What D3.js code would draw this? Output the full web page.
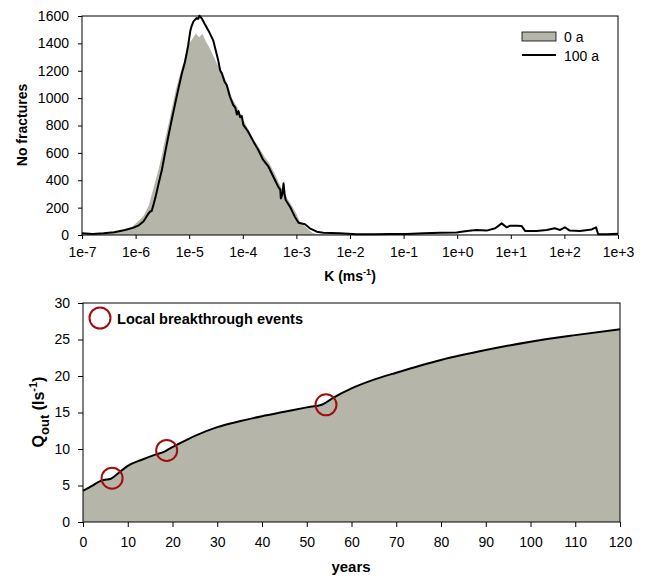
<!DOCTYPE html>
<html>
<head>
<meta charset="utf-8">
<script src="https://cdn.jsdelivr.net/npm/d3@7"></script>
<style>
body { margin: 0; background: #fff; }
svg { font-family: "Liberation Sans", Arial, sans-serif; }
</style>
</head>
<body>
<svg width="650" height="577"></svg>
<script>
// top panel: fracture count per log10 K bin
const seriesNames = ["0 a", "100 a"];

const grayExp = [-7.00, -6.60, -6.40, -6.20, -6.05, -5.95, -5.85, -5.75, -5.66, -5.57, -5.51, -5.45, -5.38, -5.33, -5.25, -5.16, -5.10, -5.05, -5.02, -4.98, -4.92, -4.88, -4.86, -4.83, -4.81, -4.78, -4.75, -4.71, -4.67, -4.64, -4.55, -4.48, -4.40, -4.30, -4.20, -4.10, -4.00, -3.90, -3.80, -3.70, -3.60, -3.50, -3.40, -3.30, -3.20, -3.10, -3.00, -2.95, -2.90, -2.80, -2.70, -2.60, -2.00, 3.00];
const grayCount = [5, 8, 18, 40, 66, 100, 140, 219, 353, 480, 584, 700, 820, 913, 1060, 1189, 1266, 1347, 1395, 1410, 1444, 1470, 1464, 1450, 1444, 1460, 1468, 1432, 1400, 1383, 1310, 1249, 1200, 1115, 1000, 930, 850, 775, 700, 640, 575, 520, 445, 360, 285, 225, 155, 110, 80, 50, 15, 5, 3, 2];

const lineExp = [-7.00, -6.80, -6.60, -6.40, -6.20, -6.05, -5.95, -5.85, -5.78, -5.73, -5.70, -5.66, -5.62, -5.57, -5.51, -5.45, -5.40, -5.33, -5.23, -5.14, -5.08, -5.02, -4.98, -4.96, -4.92, -4.86, -4.83, -4.81, -4.77, -4.71, -4.64, -4.55, -4.50, -4.46, -4.42, -4.39, -4.34, -4.30, -4.24, -4.18, -4.14, -4.11, -4.08, -4.05, -4.02, -3.99, -3.90, -3.80, -3.71, -3.62, -3.52, -3.43, -3.34, -3.30, -3.29, -3.26, -3.24, -3.22, -3.20, -3.12, -3.03, -2.96, -2.84, -2.75, -2.62, -2.50, -2.19, -1.88, -1.55, -1.25, -0.94, -0.63, -0.32, -0.01, 0.18, 0.36, 0.55, 0.71, 0.83, 0.92, 0.99, 1.11, 1.20, 1.27, 1.48, 1.67, 1.82, 1.92, 2.01, 2.10, 2.29, 2.51, 2.59, 2.63, 2.79, 3.00];
const lineCount = [12, 8, 12, 20, 36, 52, 68, 100, 145, 172, 175, 230, 290, 377, 475, 600, 700, 835, 1018, 1176, 1262, 1383, 1490, 1520, 1561, 1585, 1580, 1602, 1585, 1541, 1493, 1420, 1340, 1278, 1200, 1181, 1120, 1096, 1010, 950, 930, 880, 905, 860, 870, 804, 755, 682, 621, 548, 499, 426, 353, 330, 268, 300, 378, 300, 256, 207, 134, 90, 78, 49, 24, 17, 12, 5, 5, 7, 7, 12, 17, 19, 29, 37, 32, 49, 85, 56, 68, 68, 66, 29, 29, 37, 49, 37, 56, 32, 29, 41, 56, 5, 5, 10];

const kTickExp = [-7, -6, -5, -4, -3, -2, -1, 0, 1, 2, 3];
const countTicks = [0, 200, 400, 600, 800, 1000, 1200, 1400, 1600];

// bottom panel: outflow vs time
const years = [0, 1, 2, 3.5, 4.6, 6.1, 6.9, 8, 10, 13, 16, 18.2, 19.5, 20.6, 25, 30, 35, 40, 45, 50, 53.5, 55.6, 60, 65, 70, 80, 90, 100, 110, 120];
const qout = [4.3, 4.6, 4.95, 5.5, 5.75, 5.9, 6.2, 6.75, 7.7, 8.5, 9.2, 9.65, 10.1, 10.45, 11.8, 13.0, 13.8, 14.5, 15.1, 15.7, 16.1, 16.9, 18.3, 19.5, 20.45, 22.2, 23.55, 24.7, 25.6, 26.4];
const eventYears = [6.5, 18.7, 54.3];
const eventQ = [6.0, 9.8, 16.05];
const eventLabel = "Local breakthrough events";
const yearTicks = d3.range(0, 121, 10);
const qTicks = [0, 5, 10, 15, 20, 25, 30];

const svg = d3.select("svg");
const fillColor = "#b5b5a9";
const ringColor = "#a00d0d";

// ---------- top panel ----------
const x1 = d3.scaleLog().domain([1e-7, 1e3]).range([82, 618]);
const y1 = d3.scaleLinear().domain([0, 1600]).range([235, 16]);

const grayData = grayExp.map((e, i) => [Math.pow(10, e), grayCount[i]]);
const lineData = lineExp.map((e, i) => [Math.pow(10, e), lineCount[i]]);

svg.append("path")
	.datum(grayData)
	.attr("fill", fillColor)
	.attr("d", d3.area().x(d => x1(d[0])).y0(y1(0)).y1(d => y1(d[1])));

svg.append("path")
	.datum(lineData)
	.attr("fill", "none")
	.attr("stroke", "#000")
	.attr("stroke-width", 2)
	.attr("stroke-linejoin", "round")
	.attr("d", d3.line().x(d => x1(d[0])).y(d => y1(d[1])));

svg.append("rect")
	.attr("x", 82).attr("y", 16).attr("width", 536).attr("height", 219)
	.attr("fill", "none").attr("stroke", "#000");

const fmtK = d => {
	const e = Math.round(Math.log10(d));
	return "1e" + (e < 0 ? e : "+" + e);
};

const ax1 = svg.append("g")
	.attr("transform", "translate(0,235)")
	.call(d3.axisBottom(x1).tickValues(kTickExp.map(e => Math.pow(10, e))).tickFormat(fmtK).tickSizeInner(4).tickSizeOuter(0).tickPadding(8));
const ay1 = svg.append("g")
	.attr("transform", "translate(82,0)")
	.call(d3.axisLeft(y1).tickValues(countTicks).tickFormat(d3.format("d")).tickSizeInner(4).tickSizeOuter(0).tickPadding(9));

[ax1, ay1].forEach(a => {
	a.select(".domain").remove();
	a.selectAll("text").attr("font-size", 14).attr("fill", "#000");
	a.attr("font-family", null);
});

svg.append("text")
	.attr("transform", "translate(27,125) rotate(-90)")
	.attr("text-anchor", "middle")
	.attr("font-size", 14).attr("font-weight", "bold")
	.text("No fractures");

const kTitle = svg.append("text")
	.attr("x", 350).attr("y", 281)
	.attr("text-anchor", "middle")
	.attr("font-size", 14).attr("font-weight", "bold");
kTitle.append("tspan").text("K (ms");
kTitle.append("tspan").attr("dy", -6).attr("font-size", 9).text("-1");
kTitle.append("tspan").attr("dy", 6).text(")");

// legend
const leg = svg.append("g").attr("transform", "translate(522,32)");
leg.append("rect").attr("width", 34).attr("height", 9).attr("fill", fillColor).attr("stroke", "#000").attr("stroke-width", 0.8);
leg.append("text").attr("x", 42).attr("y", 9.5).attr("font-size", 14).text(seriesNames[0]);
leg.append("line").attr("x1", 0).attr("x2", 34).attr("y1", 23).attr("y2", 23).attr("stroke", "#000").attr("stroke-width", 2);
leg.append("text").attr("x", 42).attr("y", 28.5).attr("font-size", 14).text(seriesNames[1]);

// ---------- bottom panel ----------
const x2 = d3.scaleLinear().domain([0, 120]).range([83, 620]);
const y2 = d3.scaleLinear().domain([0, 30]).range([522, 303]);

const qData = years.map((t, i) => [t, qout[i]]);

svg.append("path")
	.datum(qData)
	.attr("fill", fillColor)
	.attr("d", d3.area().curve(d3.curveMonotoneX).x(d => x2(d[0])).y0(y2(0)).y1(d => y2(d[1])));

svg.append("path")
	.datum(qData)
	.attr("fill", "none")
	.attr("stroke", "#000")
	.attr("stroke-width", 2)
	.attr("d", d3.line().curve(d3.curveMonotoneX).x(d => x2(d[0])).y(d => y2(d[1])));

svg.append("rect")
	.attr("x", 83).attr("y", 303).attr("width", 537).attr("height", 219)
	.attr("fill", "none").attr("stroke", "#000");

svg.selectAll(".event")
	.data(eventYears)
	.join("circle")
	.attr("class", "event")
	.attr("cx", d => x2(d))
	.attr("cy", (d, i) => y2(eventQ[i]))
	.attr("r", 10.5)
	.attr("fill", "none")
	.attr("stroke", ringColor)
	.attr("stroke-width", 2);

const ax2 = svg.append("g")
	.attr("transform", "translate(0,522)")
	.call(d3.axisBottom(x2).tickValues(yearTicks).tickSizeInner(5).tickSizeOuter(0).tickPadding(10));
const ay2 = svg.append("g")
	.attr("transform", "translate(83,0)")
	.call(d3.axisLeft(y2).tickValues(qTicks).tickSizeInner(5).tickSizeOuter(0).tickPadding(8));

[ax2, ay2].forEach(a => {
	a.select(".domain").remove();
	a.selectAll("text").attr("font-size", 14).attr("fill", "#000");
	a.attr("font-family", null);
});

svg.append("text")
	.attr("x", 351).attr("y", 572)
	.attr("text-anchor", "middle")
	.attr("font-size", 15).attr("font-weight", "bold")
	.text("years");

const qTitle = svg.append("text")
	.attr("transform", "translate(44,412) rotate(-90)")
	.attr("text-anchor", "middle")
	.attr("font-size", 16).attr("font-weight", "bold");
qTitle.append("tspan").text("Q");
qTitle.append("tspan").attr("dy", 5).attr("font-size", 13).text("out");
qTitle.append("tspan").attr("dy", -5).text(" (ls");
qTitle.append("tspan").attr("dy", -7).attr("font-size", 11).text("-1");
qTitle.append("tspan").attr("dy", 7).text(")");

// event legend
svg.append("circle")
	.attr("cx", 100).attr("cy", 318).attr("r", 10.5)
	.attr("fill", "none").attr("stroke", ringColor).attr("stroke-width", 2);
svg.append("text")
	.attr("x", 117).attr("y", 324)
	.attr("font-size", 15).attr("font-weight", "bold")
	.attr("textLength", 186).attr("lengthAdjust", "spacingAndGlyphs")
	.text(eventLabel);
</script>
</body>
</html>
